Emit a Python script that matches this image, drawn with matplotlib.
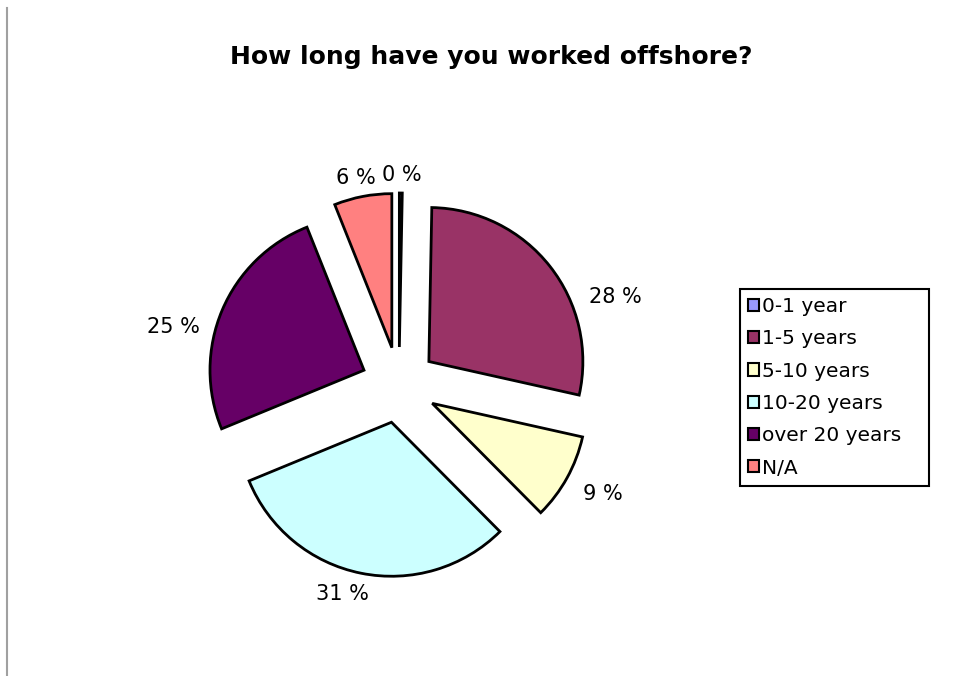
import matplotlib
matplotlib.use("Agg")
import matplotlib.pyplot as plt
from matplotlib.patches import Rectangle
from matplotlib.lines import Line2D

categories = ["0-1 year", "1-5 years", "5-10 years", "10-20 years", "over 20 years", "N/A"]
values = [0.3, 28, 9, 31, 25, 6]
pct_labels = ["0 %", "28 %", "9 %", "31 %", "25 %", "6 %"]
colors = ["#9999FF", "#993366", "#FFFFCC", "#CCFFFF", "#660066", "#FF8080"]

# layout in pixel units (y measured from bottom)
W, H = 976, 676
center = (399, H - 385)
radius = 154
offset = 38
label_pos = [(402, H - 175), (615, H - 297), (603, H - 494),
             (342, H - 594), (173, H - 327), (356, H - 178)]

fig = plt.figure(figsize=(W / 100, H / 100), dpi=100)
ax = fig.add_axes([0, 0, 1, 1])
ax.pie(values, colors=colors, center=center, radius=radius,
       explode=[offset] * len(values), startangle=90, counterclock=False,
       wedgeprops=dict(edgecolor="black", linewidth=2.0))
ax.set_xlim(0, W)
ax.set_ylim(0, H)
ax.set_aspect("equal")
ax.axis("off")

for (x, y), t in zip(label_pos, pct_labels):
    ax.text(x, y, t, ha="center", va="center", fontsize=15, color="black")

fig.text(491 / W, 1 - 57 / H, "How long have you worked offshore?",
         ha="center", va="center", fontsize=18, fontweight="bold")

handles = [Rectangle((0, 0), 1, 1, facecolor=c, edgecolor="black", linewidth=1.5)
           for c in colors]
leg = fig.legend(handles, categories, loc="upper left", mode="expand",
                 bbox_to_anchor=(740 / W, 1 - 483 / H, 189 / W, 194 / H),
                 borderaxespad=0,
                 fontsize=14.5, handlelength=0.55, handleheight=0.55,
                 handletextpad=0.15, labelspacing=0.66, borderpad=0.4,
                 fancybox=False, framealpha=1)
leg.get_frame().set_edgecolor("black")
leg.get_frame().set_linewidth(1.5)

fig.add_artist(Line2D([7 / W, 7 / W], [0, 1 - 8 / H], color="#a0a0a0", linewidth=1.5))

fig.savefig("out.png", dpi=100)
